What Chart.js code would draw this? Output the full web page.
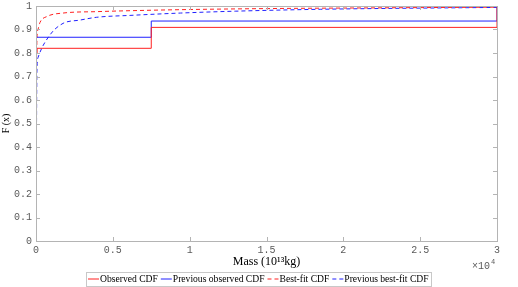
<!DOCTYPE html>
<html>
<head>
<meta charset="utf-8">
<script src="https://cdn.jsdelivr.net/npm/chart.js@4/dist/chart.umd.min.js"></script>
<style>
  html, body { margin: 0; padding: 0; background: #fff; }
  #wrap { width: 518px; height: 287px; }
</style>
</head>
<body>
<div id="wrap"><canvas id="canvasGrafici"></canvas></div>
<script>
// observed CDFs (step functions)
const obsX = [0, 0, 70, 7500, 30000];
const obsY = [0, 0.80, 0.82, 0.909, 1];
const prevObsX = [0, 0, 7500, 30000];
const prevObsY = [0, 0.867, 0.936, 1];

// best-fit CDFs
const fitX = [0, 40, 130, 260, 700, 1760, 3950, 6120, 10000, 15000, 22000, 30000];
const fitY = [0, 0.80, 0.90, 0.93, 0.955, 0.97, 0.976, 0.98, 0.985, 0.989, 0.992, 0.995];
const prevFitX = [0, 60, 130, 910, 1760, 2860, 3950, 6120, 9400, 13000, 18500, 30000];
const prevFitY = [0, 0.72, 0.78, 0.877, 0.926, 0.94, 0.952, 0.96, 0.97, 0.978, 0.986, 0.994];

const xTicks = [0, 5000, 10000, 15000, 20000, 25000, 30000];
const yTicks = [0, 0.1, 0.2, 0.3, 0.4, 0.5, 0.6, 0.7, 0.8, 0.9, 1];

const seriesNames = ["Observed CDF", "Previous observed CDF", "Best-fit CDF", "Previous best-fit CDF"];

function pts(xs, ys) {
    return xs.map((x, i) => ({ x: x, y: ys[i] }));
}

const axisColor = "#b4b4b4";
const tickFont = { family: "'Liberation Mono', monospace", size: 10 };

// inward tick marks, box round the axes, x10^4 label and the boxed legend
const axesBox = {
    id: "axesBox",
    afterDraw(chart) {
        const ctx = chart.ctx;
        const a = chart.chartArea;
        const sx = chart.scales.x, sy = chart.scales.y;
        ctx.save();
        ctx.strokeStyle = axisColor;
        ctx.lineWidth = 1;
        ctx.strokeRect(Math.round(a.left) + 0.5, Math.round(a.top) + 0.5,
            Math.round(a.right - a.left), Math.round(a.bottom - a.top));
        ctx.beginPath();
        xTicks.forEach(v => {
            const px = Math.round(sx.getPixelForValue(v)) + 0.5;
            ctx.moveTo(px, a.bottom); ctx.lineTo(px, a.bottom - 4);
            ctx.moveTo(px, a.top); ctx.lineTo(px, a.top + 4);
        });
        yTicks.forEach(v => {
            const py = Math.round(sy.getPixelForValue(v)) + 0.5;
            ctx.moveTo(a.left, py); ctx.lineTo(a.left + 4, py);
            ctx.moveTo(a.right, py); ctx.lineTo(a.right - 4, py);
        });
        ctx.stroke();

        ctx.fillStyle = "#5a5a5a";
        ctx.font = "10px 'Liberation Mono', monospace";
        ctx.textAlign = "left";
        ctx.textBaseline = "alphabetic";
        ctx.fillText("\u00d710", a.right - 25, a.bottom + 28);
        ctx.font = "7px 'Liberation Mono', monospace";
        ctx.fillText("4", a.right - 6, a.bottom + 23);

        // legend
        ctx.font = "9.6px 'Liberation Serif', serif";
        const lineW = 11, gap = 1, after = 3;
        const widths = chart.data.datasets.map(d => ctx.measureText(d.label).width);
        const total = widths.reduce((s, w) => s + lineW + gap + w + after, 0) + 1;
        let x = Math.round(258 - total / 2);
        const top = 272, h = 14, cy = top + h / 2;
        ctx.strokeStyle = "#c8c8c8";
        ctx.setLineDash([]);
        ctx.strokeRect(x + 0.5, top + 0.5, Math.round(total), h);
        x += 2;
        chart.data.datasets.forEach((d, i) => {
            ctx.beginPath();
            ctx.strokeStyle = d.borderColor;
            ctx.setLineDash(d.borderDash || []);
            ctx.moveTo(x, cy); ctx.lineTo(x + lineW, cy);
            ctx.stroke();
            ctx.setLineDash([]);
            ctx.fillStyle = "#000";
            ctx.textBaseline = "middle";
            ctx.fillText(d.label, x + lineW + gap, cy + 0.5);
            x += lineW + gap + widths[i] + after;
        });
        ctx.restore();
    }
};

const chart = new Chart(document.getElementById("canvasGrafici"), {
    type: "line",
    data: {
        datasets: [
            {
                label: seriesNames[0],
                data: pts(obsX, obsY),
                borderColor: "#ff2020",
                borderWidth: 1,
                stepped: "before",
                pointRadius: 0
            },
            {
                label: seriesNames[1],
                data: pts(prevObsX, prevObsY),
                borderColor: "#2020ff",
                borderWidth: 1,
                stepped: "before",
                pointRadius: 0
            },
            {
                label: seriesNames[2],
                data: pts(fitX, fitY),
                borderColor: "#ff2020",
                borderWidth: 1,
                borderDash: [4, 3],
                cubicInterpolationMode: "monotone",
                pointRadius: 0
            },
            {
                label: seriesNames[3],
                data: pts(prevFitX, prevFitY),
                borderColor: "#2020ff",
                borderWidth: 1,
                borderDash: [4, 3],
                cubicInterpolationMode: "monotone",
                pointRadius: 0
            }
        ]
    },
    options: {
        responsive: true,
        maintainAspectRatio: false,
        animation: false,
        layout: { padding: { left: 0, right: 21, top: 6, bottom: 16 } },
        plugins: {
            tooltip: { enabled: false },
            legend: { display: false }
        },
        scales: {
            x: {
                type: "linear",
                min: 0,
                max: 30000,
                grid: { display: false, drawTicks: false },
                border: { display: false },
                afterBuildTicks: s => { s.ticks = xTicks.map(v => ({ value: v })); },
                afterFit: s => { s.height = 30; },
                ticks: {
                    padding: 3,
                    color: "#5a5a5a",
                    font: tickFont,
                    maxRotation: 0,
                    callback: v => String(v / 10000)
                },
                title: {
                    display: true,
                    text: "Mass (10\u00b9\u00b3kg)",
                    color: "#000",
                    padding: { top: 0, bottom: 2 },
                    font: { family: "'Liberation Serif', serif", size: 12 }
                }
            },
            y: {
                min: 0,
                max: 1,
                grid: { display: false, drawTicks: false },
                border: { display: false },
                afterBuildTicks: s => { s.ticks = yTicks.map(v => ({ value: v })); },
                afterFit: s => { s.width = 36; s.paddingTop = 0; s.paddingBottom = 0; },
                ticks: {
                    padding: 4,
                    color: "#5a5a5a",
                    font: tickFont,
                    callback: v => String(Math.round(v * 10) / 10)
                },
                title: {
                    display: true,
                    text: "F (x)",
                    color: "#000",
                    padding: { top: 0, bottom: 0 },
                    font: { family: "'Liberation Serif', serif", size: 10 }
                }
            }
        }
    },
    plugins: [axesBox]
});
</script>
</body>
</html>
